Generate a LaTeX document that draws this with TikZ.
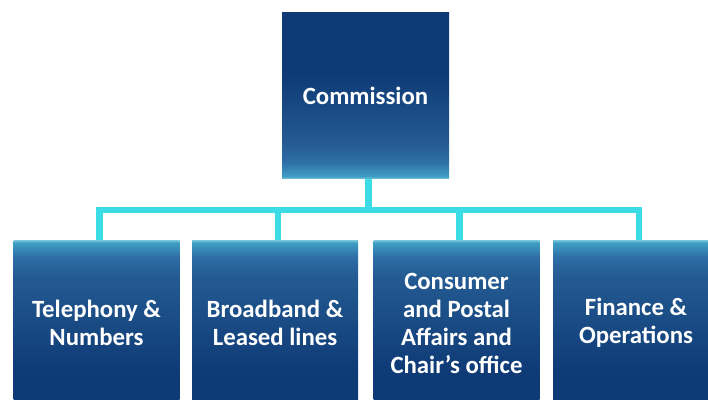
\documentclass[tikz,border=0pt]{standalone}
\usepackage{fontspec}
\setmainfont{Carlito}
\usetikzlibrary{positioning}

\definecolor{navy}{HTML}{0E3A76}
\definecolor{midblue}{HTML}{245A92}
\definecolor{steel}{HTML}{2E6FA6}
\definecolor{tealblue}{HTML}{3F9EC4}
\definecolor{edgelight}{HTML}{7CC9DD}
\definecolor{linkcyan}{HTML}{3BDCE6}

% shadings: path spans 25bp..75bp
\pgfdeclareverticalshading{bossshade}{100bp}{color(0bp)=(edgelight); color(25bp)=(edgelight); color(25.8bp)=(tealblue); color(30bp)=(steel); color(36bp)=(midblue); color(57bp)=(navy); color(100bp)=(navy)}
\pgfdeclareverticalshading{unitshade}{100bp}{color(0bp)=(navy); color(35bp)=(navy); color(64bp)=(midblue); color(70bp)=(steel); color(74.2bp)=(tealblue); color(75bp)=(edgelight); color(100bp)=(edgelight)}

\tikzset{
	box/.style={minimum width=166, minimum height=166, inner sep=0pt, text=white, align=center, font=\bfseries\fontsize{24.8}{28}\selectfont},
	boss/.style={box, minimum width=167, shading=bossshade},
	unit/.style={box, shading=unitshade},
	link/.style={draw=linkcyan, line width=6.5pt}
}

\begin{document}
\begin{tikzpicture}[x=1pt,y=1pt]
		\clip (0,0) rectangle (708,399);
		
		\node[boss] (comm) at (365.5,303) {Commission};
		
		\node[unit] (tel) at (96.5,76) {Telephony \&\\Numbers};
		\node[unit] (broad) at (275,76) {Broadband \&\\Leased lines};
		\node[unit] (cons) at (456.5,76) {Consumer\\and Postal\\Affairs and\\Chair's office};
		\node[unit] (fin) at (636,76) {Finance \&\\Operations};
		
		% connectors
		\draw[link] ([xshift=3pt]comm.south) -- ++(0,-31) coordinate (bar);
		\foreach \n in {tel,broad,cons,fin}
			\draw[link] (bar) -| ([xshift=3pt]\n.north);
		
\end{tikzpicture}
\end{document}
